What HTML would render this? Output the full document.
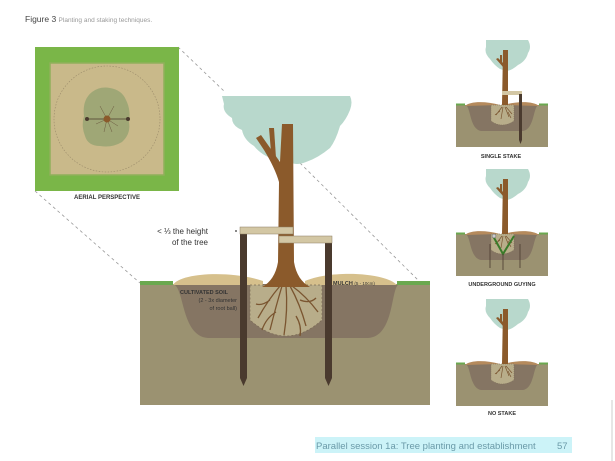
<!DOCTYPE html>
<html><head><meta charset="utf-8"><style>
html,body{margin:0;padding:0;background:#fff;width:615px;height:461px;overflow:hidden;}
svg{display:block}
text{font-family:"Liberation Sans",sans-serif;}
</style></head><body>
<svg width="615" height="461" viewBox="0 0 615 461" xmlns="http://www.w3.org/2000/svg">
<defs>
<g id="panel">
  <rect x="0" y="0" width="92" height="42" fill="#9b9271"/>
  <path d="M9,0 C15,0 13,24 25,26 L67,26 C79,24 77,0 83,0 Z" fill="#857563"/>
  <path d="M9,1 C14,-4 30,-4 44,0 Z M48,0 C60,-4 78,-4 83,1 Z" fill="#b58a5c"/>
  <rect x="0" y="-1.5" width="9" height="2" fill="#6aa84f"/>
  <rect x="83" y="-1.5" width="9" height="2" fill="#6aa84f"/>
  <path d="M35,0 L58,0 L58,16 Q46,24 35,16 Z" fill="#b8ad8a" stroke="#7a6a55" stroke-width="0.5" stroke-dasharray="1,1"/>
  <path d="M46,2 l-6,8 M47,2 l-2,12 M49,2 l4,10 M50,2 l6,7 M44,6 l-5,4 M52,7 l3,6" stroke="#7a5530" stroke-width="0.7" fill="none"/>
  <path d="M30,-65 L72,-65 Q76,-58 72,-52 Q70,-44 62,-40 Q55,-34 50,-34 L44,-36 Q38,-40 34,-46 Q28,-52 30,-58 Z" fill="#b8d8cc"/>
  <path d="M47,-55 L52,-55 L52,0 L46,0 Z" fill="#8b5a2b"/>
  <path d="M47,-38 L40,-46 L42,-47 L48,-41 Z M44,-44 L44,-50 L46,-50 L46,-43 Z" fill="#8b5a2b"/>
</g>
</defs>

<text x="25" y="22" font-size="8.5" fill="#444">Figure 3 <tspan fill="#999" font-size="6.5">Planting and staking techniques.</tspan></text>

<g stroke="#999" stroke-width="0.8" stroke-dasharray="3,3" fill="none">
  <line x1="178" y1="47" x2="225" y2="92"/>
  <line x1="35" y1="191" x2="140" y2="283"/>
  <line x1="300" y1="163" x2="420" y2="282"/>
</g>

<rect x="35" y="47" width="144" height="144" fill="#7ab648"/>
<rect x="50" y="63" width="114" height="112" fill="#c9b98a" stroke="#8fb05a" stroke-width="1.5"/>
<circle cx="107" cy="119" r="53" fill="none" stroke="#9a8a6a" stroke-width="0.6" stroke-dasharray="1.5,1.5"/>
<path d="M92,92 Q100,86 110,88 Q122,90 126,100 Q131,110 129,122 Q131,134 122,142 Q112,148 100,146 Q88,146 85,136 Q81,126 84,116 Q82,100 92,92 Z" fill="#9fa776"/>
<g stroke="#6b5a40" stroke-width="0.5">
  <line x1="107" y1="119" x2="100" y2="106"/><line x1="107" y1="119" x2="114" y2="106"/>
  <line x1="107" y1="119" x2="96" y2="124"/><line x1="107" y1="119" x2="118" y2="126"/>
  <line x1="107" y1="119" x2="104" y2="132"/><line x1="107" y1="119" x2="112" y2="132"/>
</g>
<line x1="87" y1="119" x2="128" y2="119" stroke="#4a3a2e" stroke-width="0.8"/>
<circle cx="87" cy="119" r="2" fill="#4a3a2e"/><circle cx="128" cy="119" r="2" fill="#4a3a2e"/>
<circle cx="107" cy="119" r="3.5" fill="#8b5a2b"/>
<text x="107" y="199" font-size="6" font-weight="bold" text-anchor="middle" fill="#333">AERIAL PERSPECTIVE</text>

<path d="M222,96 L350,96 Q353,102 350,110 Q346,120 340,126 Q336,140 330,148 Q318,158 306,162 Q296,166 290,162 L276,160 Q262,156 254,146 Q244,140 242,130 Q232,126 232,118 Q222,112 224,104 Z" fill="#b8d8cc"/>

<rect x="140" y="284" width="290" height="121" fill="#9b9271"/>
<path d="M172,284 C185,284 180,336 208,338 L368,338 C396,336 390,284 400,284 Z" fill="#857563"/>
<path d="M173,285 C180,273 230,270 263,281 L263,285 Z M305,285 L305,281 C330,270 385,272 397,285 Z" fill="#d6c08c"/>
<rect x="140" y="281" width="33" height="4" fill="#6aa84f"/>
<rect x="397" y="281" width="33" height="4" fill="#6aa84f"/>
<path d="M250,285 L322,285 L322,320 Q286,352 250,320 Z" fill="#b8ad8a" stroke="#7a6a55" stroke-width="0.7" stroke-dasharray="2,2"/>
<g stroke="#7a5530" stroke-width="1.3" fill="none">
  <path d="M280,286 Q268,300 258,318 M282,286 Q276,306 270,330 M286,286 Q288,310 284,335 M290,286 Q300,304 306,326 M292,286 Q306,296 318,312 M270,300 Q262,306 256,304 M300,300 Q310,304 316,298 M276,312 Q266,318 262,330 M296,316 Q302,326 300,336"/>
</g>
<path d="M282,124 L293,124 L294,262 Q297,280 310,287 L262,287 Q275,280 278,262 L279,182 Q275,168 264,150 L256,138 L261,135 L280,162 Z" fill="#8b5a2b"/>
<path d="M271,152 L269,128 L274,128 L276,158 Z" fill="#8b5a2b"/>
<path d="M240,228 L247,228 L247,378 L243.5,386 L240,378 Z" fill="#4a3a2e"/>
<path d="M325,236 L332,236 L332,378 L328.5,386 L325,378 Z" fill="#4a3a2e"/>
<rect x="240" y="227" width="53" height="7" fill="#d3c7a4" stroke="#8c7f62" stroke-width="0.5"/>
<rect x="279" y="236" width="53" height="7" fill="#d3c7a4" stroke="#8c7f62" stroke-width="0.5"/>
<circle cx="236" cy="231" r="0.9" fill="#333"/>

<text x="208" y="234" font-size="8" text-anchor="end" fill="#333">&lt; ⅓ the height</text>
<text x="208" y="245" font-size="8" text-anchor="end" fill="#333">of the tree</text>
<text x="180" y="294" font-size="5.5" font-weight="bold" fill="#333">CULTIVATED SOIL</text>
<text x="237" y="302" font-size="5.5" text-anchor="end" fill="#333">(2 - 3x diameter</text>
<text x="237" y="310" font-size="5.5" text-anchor="end" fill="#333">of root ball)</text>
<text x="333" y="285" font-size="5.5" font-weight="bold" fill="#333">MULCH <tspan font-weight="normal" font-size="4.5">(5 - 10cm)</tspan></text>

<use href="#panel" x="456" y="105"/>
<rect x="502" y="91" width="20" height="4" fill="#d3c7a4"/>
<path d="M519,94 L522,94 L522,140 L520.5,144 L519,140 Z" fill="#4a3a2e"/>
<text x="501" y="158" font-size="5.5" font-weight="bold" text-anchor="middle" fill="#333">SINGLE STAKE</text>

<use href="#panel" x="456" y="234"/>
<path d="M493,236 L503,254 L514,236" stroke="#3a7a2a" stroke-width="2" fill="none"/>
<circle cx="494" cy="236" r="2" fill="#ccc" stroke="#666" stroke-width="0.5"/>
<g stroke="#4a3a2e" stroke-width="0.8"><line x1="490" y1="244" x2="490" y2="268"/><line x1="503" y1="254" x2="503" y2="270"/><line x1="520" y1="244" x2="520" y2="268"/></g>
<text x="502" y="286" font-size="5.5" font-weight="bold" text-anchor="middle" fill="#333">UNDERGROUND GUYING</text>

<use href="#panel" x="456" y="364"/>
<text x="502" y="415" font-size="5.5" font-weight="bold" text-anchor="middle" fill="#333">NO STAKE</text>

<rect x="315" y="437" width="257" height="16" fill="#ccf3f8"/>
<text x="316" y="449" font-size="9.5" fill="#6a9aa8">Parallel session 1a: Tree planting and establishment</text>
<text x="557" y="449" font-size="9.5" fill="#6a9aa8">57</text>
<line x1="612" y1="400" x2="612" y2="461" stroke="#ccc" stroke-width="1"/>
</svg>
</body></html>
